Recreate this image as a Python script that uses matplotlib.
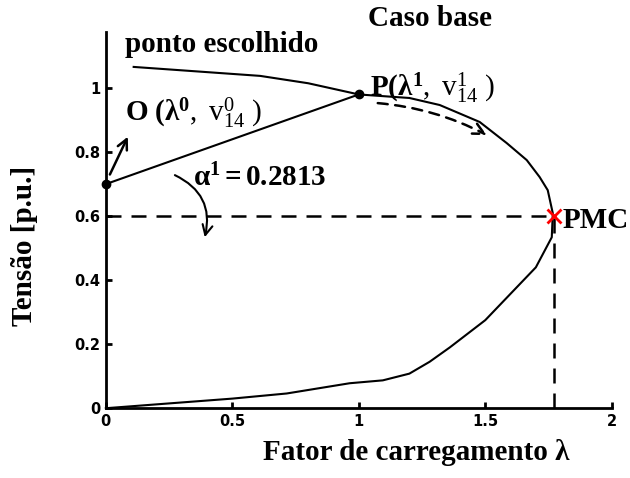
import matplotlib
matplotlib.use("Agg")
import matplotlib.pyplot as plt

plt.rcParams["mathtext.fontset"] = "custom"
plt.rcParams["mathtext.rm"] = "Liberation Serif"
plt.rcParams["mathtext.it"] = "Liberation Serif:italic"
plt.rcParams["mathtext.bf"] = "Liberation Serif:bold"

# P-V curve (load factor vs voltage), upper branch then lower branch
lam = [0.11, 0.61, 0.80, 1.00, 1.20, 1.32, 1.478, 1.585, 1.664, 1.715,
       1.747, 1.767, 1.763, 1.70, 1.50, 1.36, 1.28, 1.20, 1.095, 0.964,
       0.715, 0.50, 0.0]
volt = [1.066, 1.038, 1.015, 0.98, 0.969, 0.947, 0.894, 0.828, 0.775, 0.722,
        0.681, 0.609, 0.534, 0.44, 0.275, 0.19, 0.145, 0.108, 0.087, 0.078,
        0.046, 0.03, 0.0]

# Initial point O, chosen point P and maximum loading point PMC
pt_O = (0.0, 0.70)
pt_P = (1.0, 0.98)
pt_PMC = (1.77, 0.60)

xticks = [0, 0.5, 1, 1.5, 2]
xtick_labels = ["0", "0.5", "1", "1.5", "2"]
yticks = [0, 0.2, 0.4, 0.6, 0.8, 1.0]
ytick_labels = ["0", "0.2", "0.4", "0.6", "0.8", "1"]

serif = "Liberation Serif"

fig = plt.figure(figsize=(6.3, 4.78), dpi=100)
ax = fig.add_axes([0.168, 0.146, 0.803, 0.787])
ax.set_xlim(0, 2)
ax.set_ylim(0, 1.175)

for s in ("top", "right"):
    ax.spines[s].set_visible(False)
for s in ("left", "bottom"):
    ax.spines[s].set_linewidth(2)

ax.set_xticks(xticks)
ax.set_xticklabels(xtick_labels)
ax.set_yticks(yticks)
ax.set_yticklabels(ytick_labels)
ax.tick_params(direction="in", length=4, width=2, labelsize=10.5, pad=4)
for lab in ax.get_xticklabels() + ax.get_yticklabels():
    lab.set_fontweight("bold")

# Curve and reference lines
ax.plot(lam, volt, color="black", lw=1.5, clip_on=False)
ax.plot([pt_O[0], pt_P[0]], [pt_O[1], pt_P[1]], color="black", lw=1.5)
ax.plot([0, pt_PMC[0]], [pt_PMC[1], pt_PMC[1]], color="black", lw=1.8,
        dashes=(6, 4))
ax.plot([pt_PMC[0], pt_PMC[0]], [0, pt_PMC[1]], color="black", lw=1.8,
        dashes=(6, 4))
ax.plot([pt_O[0], pt_P[0]], [pt_O[1], pt_P[1]], "o", color="black",
        ms=6, clip_on=False, zorder=5)
ax.plot(*pt_PMC, marker="x", color="red", ms=10, mew=2, zorder=6)

# Arrows
ax.annotate("", xy=(0.087, 0.848), xytext=(0.016, 0.73),
            arrowprops=dict(arrowstyle="->", lw=1.8, color="black",
                            mutation_scale=18, shrinkA=0, shrinkB=0))
ax.annotate("", xy=(0.391, 0.534), xytext=(0.273, 0.728),
            arrowprops=dict(arrowstyle="->", lw=1.5, color="black",
                            mutation_scale=18, shrinkA=0, shrinkB=0,
                            connectionstyle="arc3,rad=-0.4"))
ax.annotate("", xy=(1.506, 0.853), xytext=(1.075, 0.953),
            arrowprops=dict(arrowstyle="->", lw=1.8, color="black",
                            ls=(0, (4, 3)), mutation_scale=20,
                            shrinkA=0, shrinkB=0,
                            connectionstyle="arc3,rad=-0.1"))

# Labels on the plot
fig.text(430 / 630, 1 - 18 / 478, "Caso base", family=serif,
         fontweight="bold", fontsize=21, ha="center", va="center")
fig.text(125 / 630, 1 - 45 / 478, "ponto escolhido", family=serif,
         fontweight="bold", fontsize=21, ha="left", va="center")
fig.text(125 / 630, 1 - 113 / 478,
         r"$\mathbf{O\ (λ^{0}},\ \mathrm{v}^{0}_{14}\ \mathrm{)}$",
         fontsize=21, ha="left", va="center")
fig.text(370 / 630, 1 - 88 / 478,
         r"$\mathbf{P(λ^{1}},\ \mathrm{v}^{1}_{14}\ \mathrm{)}$",
         fontsize=21, ha="left", va="center")
fig.text(193 / 630, 1 - 178 / 478, r"$\mathbf{α^{1}=0.2813}$",
         fontsize=21, ha="left", va="center")
fig.text(563 / 630, 1 - 220 / 478, "PMC", family=serif,
         fontweight="bold", fontsize=21, ha="left", va="center")

# Axis titles
fig.text(416 / 630, 1 - 453 / 478, "Fator de carregamento λ", family=serif,
         fontweight="bold", fontsize=21, ha="center", va="center")
fig.text(25 / 630, 1 - 246 / 478, "Tensão [p.u.]", family=serif,
         fontweight="bold", fontsize=21, ha="center", va="center",
         rotation=90)

fig.savefig("out.png", dpi=100)
